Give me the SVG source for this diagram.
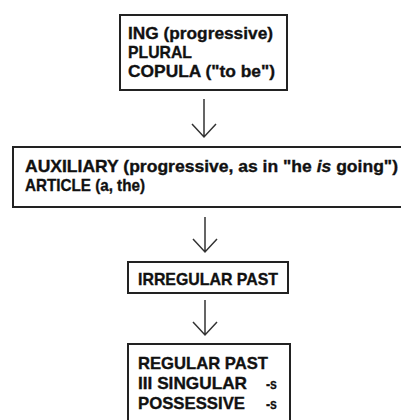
<svg xmlns="http://www.w3.org/2000/svg" width="401" height="420" viewBox="0 0 401 420">
<defs>
<style>
.box{fill:#fff;stroke:#222;stroke-width:2}
.t{font-family:"Liberation Sans",Arial,sans-serif;font-weight:bold;font-size:17px;fill:#111;stroke:#111;stroke-width:0.35}
.s{font-family:"Liberation Sans",Arial,sans-serif;font-weight:bold;font-size:15px;fill:#111;stroke:#111;stroke-width:0.3}
.c{fill:none;stroke:#333;stroke-width:1.5}
</style>
</defs>
<rect width="401" height="420" fill="#fff"/>
<g id="connectors">
<path class="c" d="M204,99 V137 M192,124 L204,137 L216,124"/>
<path class="c" d="M205,217 V252 M193,239 L205,252 L217,239"/>
<path class="c" d="M205,300 V335 M193,322 L205,335 L217,322"/>
</g>
<g id="node1">
<rect class="box" x="120" y="15" width="167" height="75"/>
<text class="t" x="128" y="39" textLength="145" lengthAdjust="spacingAndGlyphs">ING (progressive)</text>
<text class="t" x="128" y="58" textLength="64" lengthAdjust="spacingAndGlyphs">PLURAL</text>
<text class="t" x="128" y="77" textLength="147" lengthAdjust="spacingAndGlyphs">COPULA ("to be")</text>
</g>
<g id="node2">
<rect class="box" x="13" y="147" width="392" height="60"/>
<text class="t" x="25" y="172" textLength="373" lengthAdjust="spacingAndGlyphs">AUXILIARY (progressive, as in "he <tspan font-style="italic">is</tspan> going")</text>
<text class="t" x="25" y="191" textLength="120" lengthAdjust="spacingAndGlyphs">ARTICLE (a, the)</text>
</g>
<g id="node3">
<rect class="box" x="128" y="262" width="160" height="31"/>
<text class="t" x="138" y="285" textLength="140" lengthAdjust="spacingAndGlyphs">IRREGULAR PAST</text>
</g>
<g id="node4">
<rect class="box" x="128" y="344" width="162" height="82"/>
<text class="t" x="138" y="369" textLength="130" lengthAdjust="spacingAndGlyphs">REGULAR PAST</text>
<text class="t" x="138" y="389" textLength="109" lengthAdjust="spacingAndGlyphs">III SINGULAR</text>
<text class="s" x="266" y="389" textLength="11" lengthAdjust="spacingAndGlyphs">-s</text>
<text class="t" x="138" y="409" textLength="107" lengthAdjust="spacingAndGlyphs">POSSESSIVE</text>
<text class="s" x="266" y="409" textLength="11" lengthAdjust="spacingAndGlyphs">-s</text>
</g>
</svg>
